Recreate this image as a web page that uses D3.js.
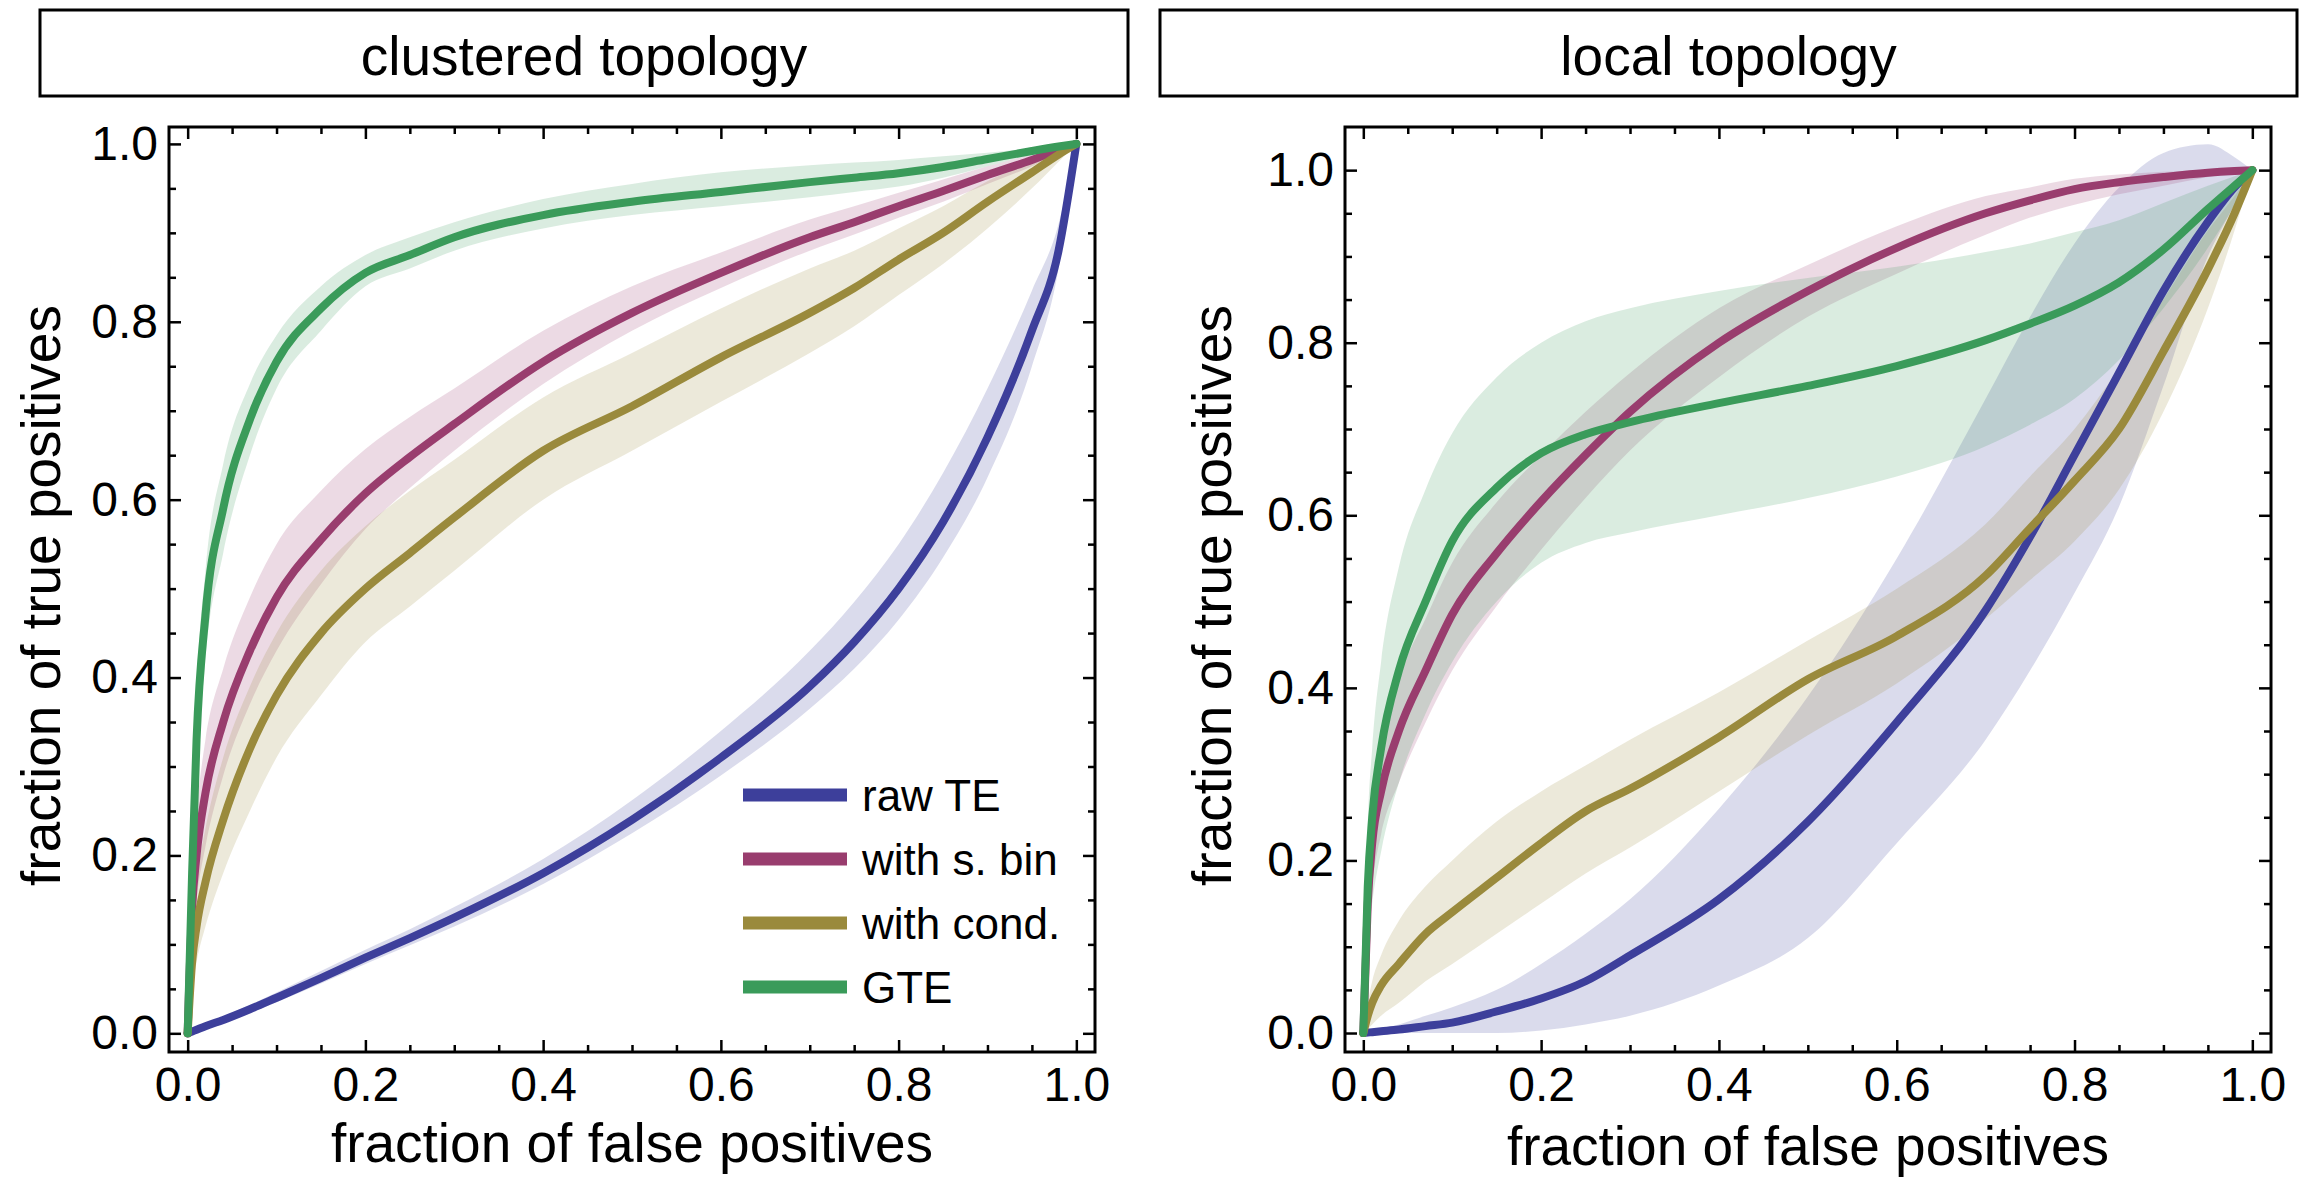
<!DOCTYPE html>
<html>
<head>
<meta charset="utf-8">
<script src="https://cdn.jsdelivr.net/npm/d3@7"></script>
<style>
  html, body { margin: 0; padding: 0; background: #fff; }
  svg { display: block; font-family: "Liberation Sans", Arial, Helvetica, sans-serif; }
</style>
</head>
<body>
<svg id="chart" width="2312" height="1180"></svg>
<script>
// ---------- DATA ----------
const panelTitles = ["clustered topology", "local topology"];
const xAxisTitle = "fraction of false positives";
const yAxisTitle = "fraction of true positives";
const seriesNames = ["raw TE", "with s. bin", "with cond.", "GTE"];
const seriesColors = ["#3d3f9b", "#993d6e", "#9a8a3c", "#3a9b5a"];
const tickLabels = [0, 0.2, 0.4, 0.6, 0.8, 1.0];

// false-positive fraction grid (shared)
const fpr = [0, 0.005, 0.01, 0.02, 0.04, 0.07, 0.1, 0.15, 0.2, 0.25, 0.3, 0.4, 0.5, 0.6, 0.7, 0.75, 0.8, 0.85, 0.9, 0.95, 0.98, 1.0];

// clustered topology
const clRawTE   = [0, 0.002, 0.004, 0.008, 0.015, 0.027, 0.04, 0.062, 0.085, 0.107, 0.13, 0.18, 0.24, 0.31, 0.39, 0.44, 0.50, 0.575, 0.67, 0.79, 0.88, 1.0];
const clRawTELo = [0, 0.001, 0.003, 0.006, 0.012, 0.023, 0.035, 0.056, 0.078, 0.099, 0.12, 0.168, 0.225, 0.29, 0.365, 0.41, 0.465, 0.535, 0.625, 0.75, 0.86, 1.0];
const clRawTEHi = [0, 0.003, 0.006, 0.011, 0.019, 0.032, 0.046, 0.07, 0.094, 0.117, 0.142, 0.196, 0.262, 0.34, 0.43, 0.485, 0.55, 0.63, 0.725, 0.835, 0.91, 1.0];
const clSBin    = [0, 0.14, 0.2, 0.27, 0.35, 0.43, 0.49, 0.555, 0.607, 0.648, 0.685, 0.755, 0.81, 0.855, 0.895, 0.912, 0.93, 0.947, 0.965, 0.982, 0.993, 1.0];
const clSBinLo  = [0, 0.10, 0.15, 0.21, 0.29, 0.37, 0.43, 0.505, 0.567, 0.613, 0.655, 0.73, 0.79, 0.838, 0.88, 0.898, 0.917, 0.935, 0.955, 0.975, 0.99, 1.0];
const clSBinHi  = [0, 0.19, 0.25, 0.33, 0.41, 0.49, 0.55, 0.61, 0.657, 0.693, 0.725, 0.79, 0.84, 0.878, 0.915, 0.93, 0.945, 0.96, 0.975, 0.988, 0.996, 1.0];
const clCond    = [0, 0.08, 0.12, 0.17, 0.24, 0.32, 0.38, 0.45, 0.50, 0.54, 0.58, 0.655, 0.705, 0.76, 0.81, 0.838, 0.87, 0.9, 0.935, 0.968, 0.988, 1.0];
const clCondLo  = [0, 0.05, 0.08, 0.12, 0.18, 0.25, 0.31, 0.38, 0.44, 0.48, 0.52, 0.60, 0.655, 0.71, 0.765, 0.795, 0.83, 0.865, 0.905, 0.95, 0.98, 1.0];
const clCondHi  = [0, 0.12, 0.17, 0.23, 0.31, 0.39, 0.45, 0.52, 0.57, 0.61, 0.645, 0.715, 0.765, 0.815, 0.86, 0.88, 0.905, 0.93, 0.958, 0.98, 0.994, 1.0];
const clGTE     = [0, 0.18, 0.33, 0.47, 0.59, 0.69, 0.755, 0.815, 0.855, 0.875, 0.895, 0.92, 0.935, 0.946, 0.957, 0.962, 0.967, 0.974, 0.983, 0.992, 0.997, 1.0];
const clGTELo   = [0, 0.14, 0.28, 0.42, 0.54, 0.65, 0.725, 0.79, 0.84, 0.86, 0.88, 0.905, 0.92, 0.93, 0.94, 0.946, 0.952, 0.962, 0.975, 0.988, 0.996, 1.0];
const clGTEHi   = [0, 0.22, 0.38, 0.52, 0.64, 0.73, 0.785, 0.84, 0.875, 0.895, 0.912, 0.938, 0.955, 0.968, 0.976, 0.979, 0.982, 0.986, 0.99, 0.995, 0.998, 1.0];

// local topology
const loRawTE   = [0, 0.0005, 0.001, 0.002, 0.004, 0.008, 0.012, 0.025, 0.04, 0.06, 0.09, 0.155, 0.245, 0.36, 0.49, 0.575, 0.67, 0.765, 0.86, 0.94, 0.98, 1.0];
const loRawTELo = [0, 0, 0, 0, 0, 0, 0, 0, 0.003, 0.01, 0.02, 0.055, 0.11, 0.22, 0.34, 0.42, 0.51, 0.61, 0.75, 0.9, 0.96, 1.0];
const loRawTEHi = [0, 0.001, 0.002, 0.005, 0.01, 0.02, 0.03, 0.05, 0.08, 0.115, 0.155, 0.26, 0.39, 0.55, 0.735, 0.83, 0.915, 0.98, 1.02, 1.03, 1.015, 1.0];
const loSBin    = [0, 0.15, 0.22, 0.28, 0.35, 0.42, 0.485, 0.556, 0.616, 0.67, 0.72, 0.80, 0.86, 0.91, 0.95, 0.965, 0.978, 0.986, 0.992, 0.997, 0.999, 1.0];
const loSBinLo  = [0, 0.11, 0.17, 0.23, 0.29, 0.36, 0.42, 0.495, 0.56, 0.62, 0.675, 0.76, 0.83, 0.88, 0.925, 0.945, 0.96, 0.972, 0.982, 0.992, 0.997, 1.0];
const loSBinHi  = [0, 0.2, 0.27, 0.33, 0.41, 0.48, 0.545, 0.615, 0.67, 0.72, 0.765, 0.84, 0.89, 0.935, 0.97, 0.98, 0.99, 0.995, 0.998, 1.0, 1.0, 1.0];
const loCond    = [0, 0.02, 0.035, 0.055, 0.08, 0.115, 0.14, 0.18, 0.22, 0.257, 0.283, 0.343, 0.41, 0.46, 0.53, 0.585, 0.64, 0.70, 0.79, 0.885, 0.95, 1.0];
const loCondLo  = [0, 0.005, 0.01, 0.02, 0.035, 0.06, 0.08, 0.115, 0.15, 0.185, 0.215, 0.28, 0.345, 0.405, 0.48, 0.525, 0.57, 0.63, 0.72, 0.84, 0.93, 1.0];
const loCondHi  = [0, 0.035, 0.06, 0.09, 0.13, 0.17, 0.2, 0.245, 0.28, 0.31, 0.34, 0.395, 0.455, 0.515, 0.59, 0.645, 0.70, 0.77, 0.85, 0.93, 0.97, 1.0];
const loGTE     = [0, 0.17, 0.25, 0.33, 0.42, 0.5, 0.57, 0.632, 0.672, 0.694, 0.708, 0.73, 0.75, 0.773, 0.803, 0.822, 0.843, 0.87, 0.908, 0.955, 0.982, 1.0];
const loGTELo   = [0, 0.1, 0.15, 0.21, 0.29, 0.37, 0.43, 0.5, 0.545, 0.568, 0.58, 0.6, 0.62, 0.645, 0.68, 0.705, 0.735, 0.78, 0.84, 0.91, 0.96, 1.0];
const loGTEHi   = [0, 0.24, 0.33, 0.43, 0.54, 0.63, 0.695, 0.76, 0.8, 0.825, 0.84, 0.86, 0.875, 0.888, 0.905, 0.915, 0.928, 0.942, 0.962, 0.982, 0.993, 1.0];

// ---------- DRAW ----------
const svg = d3.select("#chart");

const panels = [
  {
    title: panelTitles[0],
    box: [40, 10, 1128, 96],
    frame: [169, 127, 1095, 1052],
    xDomain: [-0.021, 1.021], yDomain: [-0.021, 1.019],
    yTitleX: 60, xTitleY: 1162,
    series: [[clRawTE, clRawTELo, clRawTEHi], [clSBin, clSBinLo, clSBinHi], [clCond, clCondLo, clCondHi], [clGTE, clGTELo, clGTEHi]],
    legend: true
  },
  {
    title: panelTitles[1],
    box: [1160, 10, 2297, 96],
    frame: [1345, 127, 2271, 1052],
    xDomain: [-0.0206, 1.021], yDomain: [-0.022, 1.05],
    yTitleX: 1231, xTitleY: 1165,
    series: [[loRawTE, loRawTELo, loRawTEHi], [loSBin, loSBinLo, loSBinHi], [loCond, loCondLo, loCondHi], [loGTE, loGTELo, loGTEHi]],
    legend: false
  }
];

const majorTicks = tickLabels;
const minorTicks = d3.range(0, 21).map(i => i * 0.05).filter(v => !majorTicks.some(m => Math.abs(m - v) < 1e-9));

panels.forEach((p, pi) => {
  const [fx0, fy0, fx1, fy1] = p.frame;
  const x = d3.scaleLinear().domain(p.xDomain).range([fx0, fx1]);
  const y = d3.scaleLinear().domain(p.yDomain).range([fy1, fy0]);
  const g = svg.append("g");

  // title box
  const [bx0, by0, bx1, by1] = p.box;
  g.append("rect").attr("x", bx0).attr("y", by0).attr("width", bx1 - bx0).attr("height", by1 - by0)
    .attr("fill", "none").attr("stroke", "#000").attr("stroke-width", 3);
  g.append("text").attr("x", (bx0 + bx1) / 2).attr("y", 75).attr("text-anchor", "middle")
    .attr("font-size", 55).attr("fill", "#000").text(p.title);

  // clip
  const clipId = "clip" + pi;
  svg.append("clipPath").attr("id", clipId).append("rect")
    .attr("x", fx0).attr("y", fy0).attr("width", fx1 - fx0).attr("height", fy1 - fy0);
  const plot = g.append("g").attr("clip-path", `url(#${clipId})`);

  const area = (lo, hi) => d3.area().curve(d3.curveMonotoneX)
    .x((d, i) => x(fpr[i])).y0((d, i) => y(lo[i])).y1((d, i) => y(hi[i]));
  const line = (m) => d3.line().curve(d3.curveMonotoneX)
    .x((d, i) => x(fpr[i])).y((d, i) => y(m[i]));

  p.series.forEach((s, si) => {
    plot.append("path").datum(fpr).attr("d", area(s[1], s[2]))
      .attr("fill", seriesColors[si]).attr("fill-opacity", 0.19).attr("stroke", "none");
  });
  p.series.forEach((s, si) => {
    plot.append("path").datum(fpr).attr("d", line(s[0]))
      .attr("fill", "none").attr("stroke", seriesColors[si]).attr("stroke-width", 8)
      .attr("stroke-linejoin", "round").attr("stroke-linecap", "round");
  });

  // axes with inward ticks
  const fmt = d3.format(".1f");
  const styleAxis = (sel) => {
    sel.select(".domain").remove();
    sel.selectAll(".tick line").attr("stroke", "#000").attr("stroke-width", 2.5);
    sel.selectAll(".tick text").attr("font-size", 48).attr("fill", "#000")
      .attr("font-family", '"Liberation Sans", Arial, Helvetica, sans-serif');
  };
  // bottom
  g.append("g").attr("transform", `translate(0,${fy1})`)
    .call(d3.axisBottom(x).tickValues(minorTicks).tickSize(-7).tickSizeOuter(0).tickFormat(""))
    .call(styleAxis);
  g.append("g").attr("transform", `translate(0,${fy1})`)
    .call(d3.axisBottom(x).tickValues(majorTicks).tickSize(-12).tickSizeOuter(0).tickPadding(15).tickFormat(fmt))
    .call(styleAxis);
  // top
  g.append("g").attr("transform", `translate(0,${fy0})`)
    .call(d3.axisTop(x).tickValues(minorTicks).tickSize(-7).tickSizeOuter(0).tickFormat(""))
    .call(styleAxis);
  g.append("g").attr("transform", `translate(0,${fy0})`)
    .call(d3.axisTop(x).tickValues(majorTicks).tickSize(-12).tickSizeOuter(0).tickFormat(""))
    .call(styleAxis);
  // left
  g.append("g").attr("transform", `translate(${fx0},0)`)
    .call(d3.axisLeft(y).tickValues(minorTicks).tickSize(-7).tickSizeOuter(0).tickFormat(""))
    .call(styleAxis);
  g.append("g").attr("transform", `translate(${fx0},0)`)
    .call(d3.axisLeft(y).tickValues(majorTicks).tickSize(-12).tickSizeOuter(0).tickPadding(11).tickFormat(fmt))
    .call(styleAxis);
  // right
  g.append("g").attr("transform", `translate(${fx1},0)`)
    .call(d3.axisRight(y).tickValues(minorTicks).tickSize(-7).tickSizeOuter(0).tickFormat(""))
    .call(styleAxis);
  g.append("g").attr("transform", `translate(${fx1},0)`)
    .call(d3.axisRight(y).tickValues(majorTicks).tickSize(-12).tickSizeOuter(0).tickFormat(""))
    .call(styleAxis);

  // frame
  g.append("rect").attr("x", fx0).attr("y", fy0).attr("width", fx1 - fx0).attr("height", fy1 - fy0)
    .attr("fill", "none").attr("stroke", "#000").attr("stroke-width", 3);

  // axis titles
  g.append("text").attr("x", (fx0 + fx1) / 2).attr("y", p.xTitleY).attr("text-anchor", "middle")
    .attr("font-size", 55).attr("fill", "#000").text(xAxisTitle);
  g.append("text").attr("transform", `translate(${p.yTitleX},${(fy0 + fy1) / 2 + 6}) rotate(-90)`)
    .attr("text-anchor", "middle").attr("font-size", 55).attr("fill", "#000").text(yAxisTitle);

  // legend
  if (p.legend) {
    const lg = g.append("g");
    seriesNames.forEach((name, i) => {
      const cy = 795 + i * 64;
      lg.append("line").attr("x1", 743).attr("x2", 847).attr("y1", cy).attr("y2", cy)
        .attr("stroke", seriesColors[i]).attr("stroke-width", 13);
      lg.append("text").attr("x", 862).attr("y", cy + 16).attr("font-size", 44).attr("fill", "#000").text(name);
    });
  }
});
</script>
</body>
</html>
